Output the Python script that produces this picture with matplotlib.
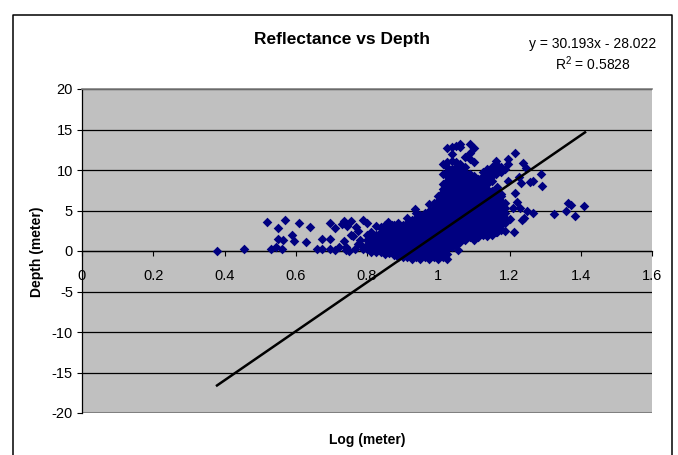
import matplotlib
matplotlib.use("Agg")
import matplotlib.pyplot as plt
from matplotlib.lines import Line2D

W, H = 678, 455
plt.rcParams['font.family'] = ['Liberation Sans', 'DejaVu Sans']
plt.rcParams['axes.unicode_minus'] = False

# isolated points (log, depth)
sparse_log = [.379,.455,.52,.53,.545,.56,.55,.55,.565,.57,.59,.595,.61,.63,.64,.66,.675,.675,.695,.695,.695,
              .71,.71,.72,.735,.735,.745,.74,.75,.755,.755,.76,.77,.78,.79,.79,.74,.765,.775,.775,.73,.785,.80,
              .81,.825,.84,.87,.86,
              .974,.935,1.013,1.055,
              1.216,1.197,1.197,1.239,1.246,1.288,1.265,1.258,1.232,1.228,1.292,1.196,1.215,1.22,1.176,1.165,
              1.21,1.23,1.25,1.266,1.24,1.235,1.2,1.187,1.213,1.165,
              1.325,1.365,1.372,1.358,1.384,1.41]
sparse_depth = [0,.2,3.55,.3,.5,.2,2.8,1.5,1.4,3.8,2,1.2,3.4,1.1,3,.2,1.5,.2,1.5,.2,3.4,
                2.8,.1,.5,1.2,3.7,3.1,.5,0,3.7,2,1.8,3,1.4,3.8,.3,.1,.2,.9,2.5,3.3,.6,3.4,
                2,3.1,3,3.2,3.6,
                5.8,5.2,7.3,.1,
                12.1,11.4,10.7,10.9,10.3,9.5,8.7,8.5,8.4,9.1,8,8.6,7.1,6,7,7.9,
                5.3,5.3,4.9,4.65,4.1,3.8,4,2.5,2.35,2.3,
                4.6,5.95,5.65,5,4.35,5.5]

# the dense cloud, read column by column
cloud_log = [.80,.812,.825,.838,.85,.862,.875,.888,.90,.912,.925,.938,.95,.962,.975,.988,
             1.0,1.012,1.025,1.038,1.05,1.062,1.075,1.088,1.10,1.112,1.125,1.138,1.15,1.162,1.175,1.188]
cloud_depth = [
    [.2,.8,1.4,2],
    [-.1,.5,1.1,1.7,2.3],
    [-.1,.2,.8,1.4,2],
    [-.1,.5,1.1,1.7,2.3,2.9],
    [-.4,.2,.8,1.4,2,2.6,3.2],
    [-.2,.5,1.1,1.7,2.3,2.9],
    [-.5,.2,.8,1.4,2,2.6,3.2],
    [-.7,-.1,.5,1.1,1.7,2.3,2.9,3.5],
    [-.8,-.4,.2,.8,1.4,2,2.6,3.2],
    [-.7,-.1,.5,1.1,1.7,2.3,2.9,3.5,4.1],
    [-1,-.4,.2,.8,1.4,2,2.6,3.2,3.8],
    [-.7,-.1,.5,1.1,1.7,2.3,2.9,3.5,4.1,4.7],
    [-1,-.4,.2,.8,1.4,2,2.6,3.2,3.8,4.4],
    [-.7,-.1,.5,1.1,1.7,2.3,2.9,3.5,4.1,4.7],
    [-1,-.4,.2,.8,1.4,2,2.6,3.2,3.8,4.4,5],
    [-.7,-.1,.5,1.1,1.7,2.3,2.9,3.5,4.1,4.7,5.3,5.9],
    [-1,-.4,.2,.8,1.4,2,2.6,3.2,3.8,4.4,5,5.6,6.2,6.8],
    [-.7,-.1,.5,1.1,1.7,2.3,2.9,3.5,4.1,4.7,5.3,5.9,6.5,7.1,7.7,8.3,9.5,10.7],
    [-1,-.4,.2,.8,1.4,2,2.6,3.2,3.8,4.4,5,5.6,6.2,6.8,7.4,8,8.6,9.2,9.8,10.4,11,12.75],
    [.5,1.1,1.7,2.3,2.9,3.5,4.1,4.7,5.3,5.9,6.5,7.1,7.7,8.3,8.9,9.5,10.1,11.1,12,12.9],
    [.8,1.4,2,2.6,3.2,3.8,4.4,5,5.6,6.2,6.8,7.4,8,8.6,9.2,9.8,10.4,11,13],
    [1.1,1.7,2.3,2.9,3.5,4.1,4.7,5.3,5.9,6.5,7.1,7.7,8.3,8.9,9.5,10.1,10.7,12.9,13.2],
    [1.4,2,2.6,3.2,3.8,4.4,5,5.6,6.2,6.8,7.4,8,8.6,9.2,9.8,10.4,11.6],
    [1.7,2.3,2.9,3.5,4.1,4.7,5.3,5.9,6.5,7.1,7.7,8.3,8.9,9.5,11.3,12.1,13.2],
    [1.4,2,2.6,3.2,3.8,4.4,5,5.6,6.2,6.8,7.4,8,8.6,9.2,11,12.75],
    [1.7,2.3,2.9,3.5,4.1,4.7,5.3,5.9,6.5,7.1,7.7,8.3,8.9],
    [2,2.6,3.2,3.8,4.4,5,5.6,6.2,6.8,7.4,8,8.6,9.2,9.8],
    [1.9,2.3,2.9,3.5,4.1,4.7,5.3,5.9,6.5,7.1,7.7,8.3,8.9,9.5,10.1],
    [2,2.6,3.2,3.8,4.4,5,5.6,6.2,6.8,7.4,8.6,9.2,9.8,10.4],
    [2.3,2.9,3.5,4.1,4.7,5.3,5.9,6.5,7.1,9.5,10.1,10.7,11.1],
    [2.6,3.2,3.8,4.4,5,5.6,6.2,6.8,9.8,10.4],
    [3.5,4.1,4.7,5.3,5.9,10.1],
]
trend_log = [.379, 1.412]
trend_depth = [-16.6, 14.65]

x_ticks = [0, .2, .4, .6, .8, 1, 1.2, 1.4, 1.6]
x_tick_labels = ['0', '0.2', '0.4', '0.6', '0.8', '1', '1.2', '1.4', '1.6']
y_ticks = [-20, -15, -10, -5, 0, 5, 10, 15, 20]

fig = plt.figure(figsize=(W / 100, H / 100), dpi=100, facecolor='white')
L, R, T, B = 82, 652, 89, 413
ax = fig.add_axes([L / W, 1 - B / H, (R - L) / W, (B - T) / H], facecolor='#C0C0C0')
ax.set_xlim(0, 1.6)
ax.set_ylim(-20, 20)

xs = list(sparse_log)
ys = list(sparse_depth)
for cx, col in zip(cloud_log, cloud_depth):
    xs += [cx] * len(col)
    ys += col

ax.yaxis.grid(True, color='black', lw=0.9, zorder=1)
ax.set_axisbelow(True)
ax.scatter(xs, ys, marker='D', s=24, color='#000080', linewidths=0, zorder=3, clip_on=False)
ax.plot(trend_log, trend_depth, color='black', lw=1.8, zorder=4)

ax.set_xticks(x_ticks, x_tick_labels)
ax.set_yticks(y_ticks)
ax.tick_params(axis='x', length=3.5, width=0.8, labelsize=10.5, pad=9.5, colors='black')
ax.tick_params(axis='y', length=3.5, width=0.8, labelsize=10.5, pad=3, colors='black')
ax.spines['bottom'].set_position(('data', 0))
ax.spines['bottom'].set_linewidth(0.9)
ax.spines['left'].set_linewidth(0.9)
ax.spines['right'].set_visible(False)
ax.spines['top'].set_color('#808080')
ax.spines['top'].set_linewidth(1.2)
ax.axhline(-20, color='#808080', lw=2.2, zorder=2)

def tx(px, py, s, **kw):
    fig.text(px / W, 1 - py / H, s, ha='center', va='center', **kw)

tx(342, 39.5, 'Reflectance vs Depth', fontsize=12.5, fontweight='bold')
tx(593, 44, 'y = 30.193x - 28.022', fontsize=10)
tx(593, 64, 'R$^{\\mathregular{2}}$ = 0.5828', fontsize=10)
tx(367, 440, 'Log (meter)', fontsize=10, fontweight='bold')
tx(37, 252, 'Depth (meter)', fontsize=10, fontweight='bold', rotation=90)

frame_x = [13 / W, 13 / W, 672 / W, 672 / W]
frame_y = [0, 1 - 15 / H, 1 - 15 / H, 0]
fig.add_artist(Line2D(frame_x, frame_y, color='black', lw=1.1, transform=fig.transFigure))

fig.savefig('out.png', dpi=100)
